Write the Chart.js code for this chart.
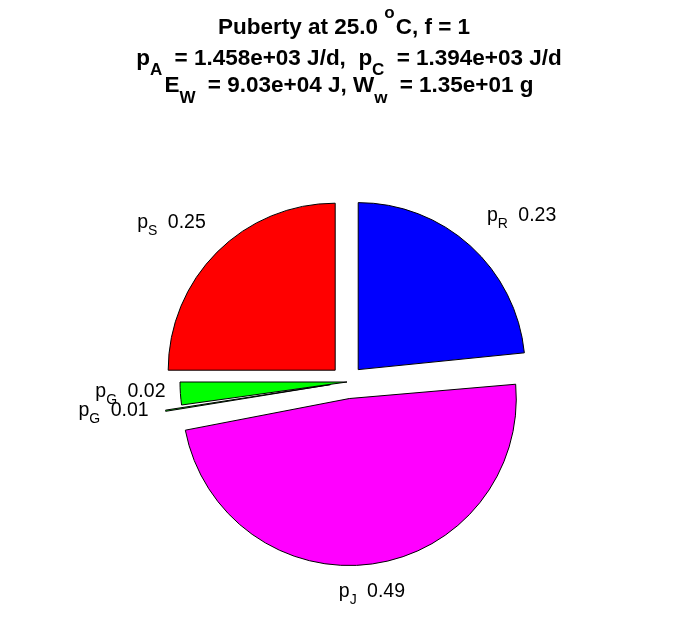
<!DOCTYPE html>
<html>
<head>
<meta charset="utf-8">
<script src="https://cdn.jsdelivr.net/npm/chart.js@4"></script>
<style>
  html, body { margin: 0; padding: 0; background: #fff; }
  #wrap { width: 696px; height: 618px; position: relative; }
</style>
</head>
<body>
<div id="wrap"><canvas id="pie"></canvas></div>
<script>
// slices in clockwise order starting at 12 o'clock
const sliceNames = ['R', 'J', 'G', 'G', 'S'];
const sliceFractions = [0.234, 0.488, 0.006, 0.022, 0.250];
const sliceExplode = [1, 1, 1, 0, 1];   // which wedges are pulled out
const sliceColors = ['#0000FF', '#FF00FF', '#00FF00', '#00FF00', '#FF0000'];

// title lines as runs of text (sub / sup for the TeX bits)
const titleLine1 = [{ t: 'Puberty at 25.0 ' }, { t: 'o', sup: true }, { t: 'C, f = 1' }];
const titleLine2 = [{ t: 'p' }, { t: 'A', sub: true }, { t: ' = 1.458e+03 J/d,  p' }, { t: 'C', sub: true }, { t: ' = 1.394e+03 J/d' }];
const titleLine3 = [{ t: 'E' }, { t: 'W', sub: true }, { t: ' = 9.03e+04 J, W' }, { t: 'w', sub: true }, { t: ' = 1.35e+01 g' }];

const FONT = '"Liberation Sans", Arial, Helvetica, sans-serif';
const RADIUS = 167;
const EXPLODE = 16.7;          // shift of a pulled-out wedge, like matlab's explode
const LABEL_DX = [29, -5, -19, 0, -22];   // small horizontal nudges for the labels

// chart.js shifts an arc by offset/4 but also grows its radius by offset/4 * (1 - sin(circ));
// undo the growth so every wedge keeps the same radius
const evenExplode = {
  id: 'evenExplode',
  beforeDatasetDraw(chart, args) {
    args.meta.data.forEach(arc => {
      const circ = arc.endAngle - arc.startAngle;
      const fix = 1 - Math.sin(Math.min(Math.PI, circ));
      const shift = (arc.options.offset || 0) / 4;
      arc.outerRadius = RADIUS - shift * fix;
    });
  }
};

// st = { size, small, weight, drop, rise, pad, supPad }  (pad = extra room after a sub)
function gapAfter(r, st) {
  if (r.sub) return st.pad;
  if (r.sup) return st.supPad;
  return 0;
}

function runsWidth(ctx, runs, st) {
  let w = 0;
  runs.forEach(r => {
    const small = r.sub || r.sup;
    ctx.font = `${st.weight} ${small ? st.small : st.size}px ${FONT}`;
    w += ctx.measureText(r.t).width + gapAfter(r, st);
  });
  return w;
}

function drawRuns(ctx, runs, cx, baseline, st) {
  const total = runsWidth(ctx, runs, st);
  let x = cx - total / 2;
  ctx.fillStyle = '#000';
  ctx.textAlign = 'left';
  ctx.textBaseline = 'alphabetic';
  runs.forEach(r => {
    const small = r.sub || r.sup;
    ctx.font = `${st.weight} ${small ? st.small : st.size}px ${FONT}`;
    let y = baseline;
    if (r.sub) y += st.drop;
    if (r.sup) y -= st.rise;
    ctx.fillText(r.t, x, y);
    x += ctx.measureText(r.t).width + gapAfter(r, st);
  });
}

const titleStyle = { size: 22.5, small: 17, weight: 'bold', drop: 10, rise: 16, pad: 6, supPad: 1 };
const labelStyle = { size: 19.5, small: 14, weight: 'normal', drop: 7, rise: 0, pad: 5, supPad: 0 };

const textPlugin = {
  id: 'matlabText',
  afterDraw(chart) {
    const ctx = chart.ctx;
    ctx.save();
    // title
    drawRuns(ctx, titleLine1, 344, 33.5, titleStyle);
    drawRuns(ctx, titleLine2, 349, 65, titleStyle);
    drawRuns(ctx, titleLine3, 349, 92, Object.assign({}, titleStyle, { drop: 11 }));

    // slice labels, placed 1.2 r out along each slice's middle direction
    const meta = chart.getDatasetMeta(0);
    meta.data.forEach((arc, i) => {
      const mid = (arc.startAngle + arc.endAngle) / 2;
      const dist = EXPLODE + 1.2 * RADIUS;
      const ax = arc.x + Math.cos(mid) * dist + LABEL_DX[i];
      const ay = arc.y + Math.sin(mid) * dist;
      const runs = [{ t: 'p' }, { t: sliceNames[i], sub: true }, { t: ' ' + sliceFractions[i].toFixed(2) }];
      drawRuns(ctx, runs, ax, ay, labelStyle);
    });
    ctx.restore();
  }
};

new Chart(document.getElementById('pie'), {
  type: 'pie',
  data: {
    labels: sliceNames.map(n => 'p_' + n),
    datasets: [{
      data: sliceFractions,
      backgroundColor: sliceColors,
      borderColor: '#000000',
      borderWidth: 1,
      borderJoinStyle: 'miter',
      offset: sliceExplode.map(e => e * 4 * EXPLODE)
    }]
  },
  options: {
    responsive: true,
    maintainAspectRatio: false,
    animation: false,
    radius: RADIUS,
    layout: { padding: { top: 150, bottom: 4, left: 0, right: 2 } },
    plugins: {
      legend: { display: false },
      tooltip: { enabled: false },
      title: { display: false }
    }
  },
  plugins: [evenExplode, textPlugin]
});
</script>
</body>
</html>
